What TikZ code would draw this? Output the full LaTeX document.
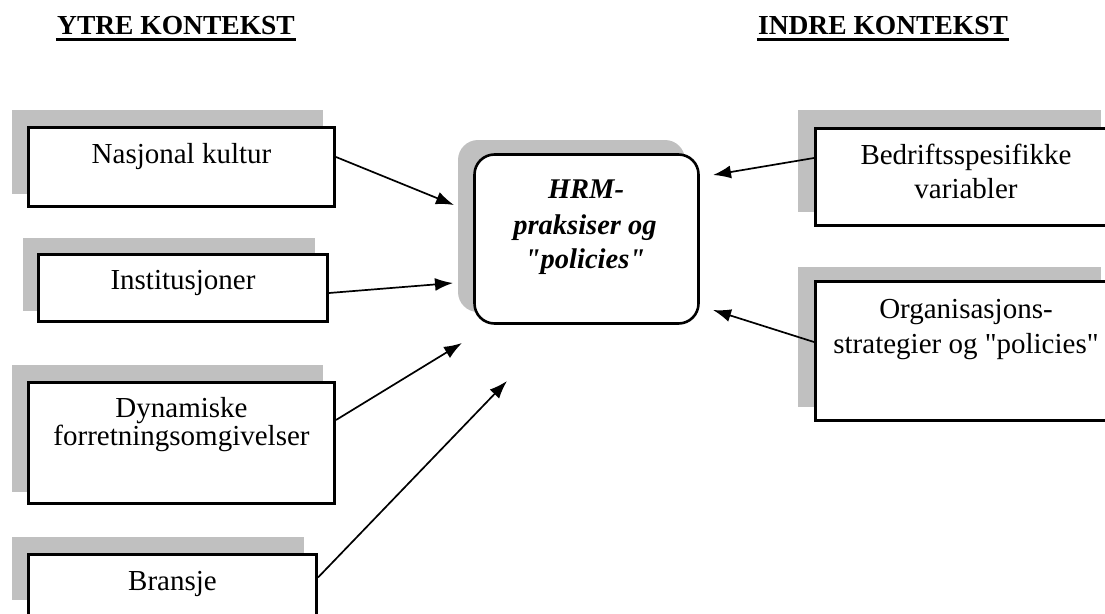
\documentclass[tikz,border=0pt]{standalone}
\usepackage{fontspec}
\setmainfont{Liberation Serif}
\usetikzlibrary{arrows.meta}
\definecolor{shadowgray}{HTML}{C0C0C0}
\begin{document}
\begin{tikzpicture}[x=1pt,y=-1pt,
  box/.style={draw=black, line width=3pt, fill=white, rectangle, inner sep=0pt},
  hrmbox/.style={draw=black, line width=2.6pt, fill=white, rectangle, rounded corners=20pt, inner sep=0pt},
  shade/.style={fill=shadowgray},
  txt/.style={anchor=base, inner sep=0pt, font=\fontsize{29}{34}\selectfont},
  hrmtxt/.style={anchor=base, inner sep=0pt, font=\fontsize{28.5}{34}\selectfont\bfseries\itshape},
  head/.style={anchor=base, inner sep=0pt, font=\fontsize{27.5}{32}\selectfont\bfseries},
  uline/.style={line width=2.2pt},
  arr/.style={line width=1.7pt, -{Latex[length=18pt,width=13pt]}}]
\path[use as bounding box, clip] (0,0) rectangle (1105,613);

% headers
\node[head] (h1) at (176,34) {YTRE KONTEKST};
\node[head] (h2) at (883,34) {INDRE KONTEKST};
\draw[uline] ([xshift=-1pt,yshift=-5.5pt]h1.base west) -- ([xshift=1pt,yshift=-5.5pt]h1.base east);
\draw[uline] ([xshift=-1pt,yshift=-5.5pt]h2.base west) -- ([xshift=1pt,yshift=-5.5pt]h2.base east);

% shadows
\fill[shade] (12,110) rectangle (323,194);
\fill[shade] (23,238) rectangle (315,311);
\fill[shade] (12,365) rectangle (323,492);
\fill[shade] (12,537) rectangle (304,600);
\fill[shade] (798,110) rectangle (1101,212);
\fill[shade] (798,267) rectangle (1101,407);
\fill[shade, rounded corners=20pt] (458,140) rectangle (685,312);

% boxes
\node[box, minimum width=306pt, minimum height=79pt] (n1) at (181.5,167) {};
\node[box, minimum width=289pt, minimum height=67pt] (n2) at (183,288) {};
\node[box, minimum width=306pt, minimum height=121pt] (n3) at (181.5,443) {};
\node[box, minimum width=288pt, minimum height=66pt] (n4) at (172.5,587.5) {};
\node[box, minimum width=300pt, minimum height=97pt] (r1) at (965.5,177) {};
\node[box, minimum width=300pt, minimum height=139pt] (r2) at (965.5,351) {};
\node[hrmbox, minimum width=224pt, minimum height=169pt] (c) at (586.5,239) {};

% texts
\node[txt] (t1) at (181.5,163) {Nasjonal kultur};
\node[txt] (t2) at (183,289) {Institusjoner};
\node[txt] (t3a) at (181.5,417) {Dynamiske};
\node[txt] (t3b) at (181.5,445) {forretningsomgivelser};
\node[txt] (t4) at (172.5,590) {Bransje};
\node[txt] (t5a) at (966,164) {Bedriftsspesifikke};
\node[txt] (t5b) at (966,198) {variabler};
\node[txt] (t6a) at (966,318) {Organisasjons-};
\node[txt] (t6b) at (966,353) {strategier og \textquotedbl policies\textquotedbl};
\node[hrmtxt] (ca) at (586,198) {HRM-};
\node[hrmtxt] (cb) at (585,234) {praksiser og};
\node[hrmtxt] (cc) at (585,268) {\textquotedbl policies\textquotedbl};

% arrow tips
\coordinate (p1) at (454,205);
\coordinate (p2) at (453,283);
\coordinate (p3) at (462,343);
\coordinate (p4) at (507,381);
\coordinate (p5) at (713,175);
\coordinate (p6) at (713,310);

\draw[arr] ([yshift=10pt]n1.east) -- (p1);
\draw[arr] ([yshift=-5pt]n2.east) -- (p2);
\draw[arr] ([yshift=23pt]n3.east) -- (p3);
\draw[arr] ([yshift=10pt]n4.east) -- (p4);
\draw[arr] ([yshift=19pt]r1.west) -- (p5);
\draw[arr] ([yshift=9pt]r2.west) -- (p6);
\end{tikzpicture}
\end{document}
